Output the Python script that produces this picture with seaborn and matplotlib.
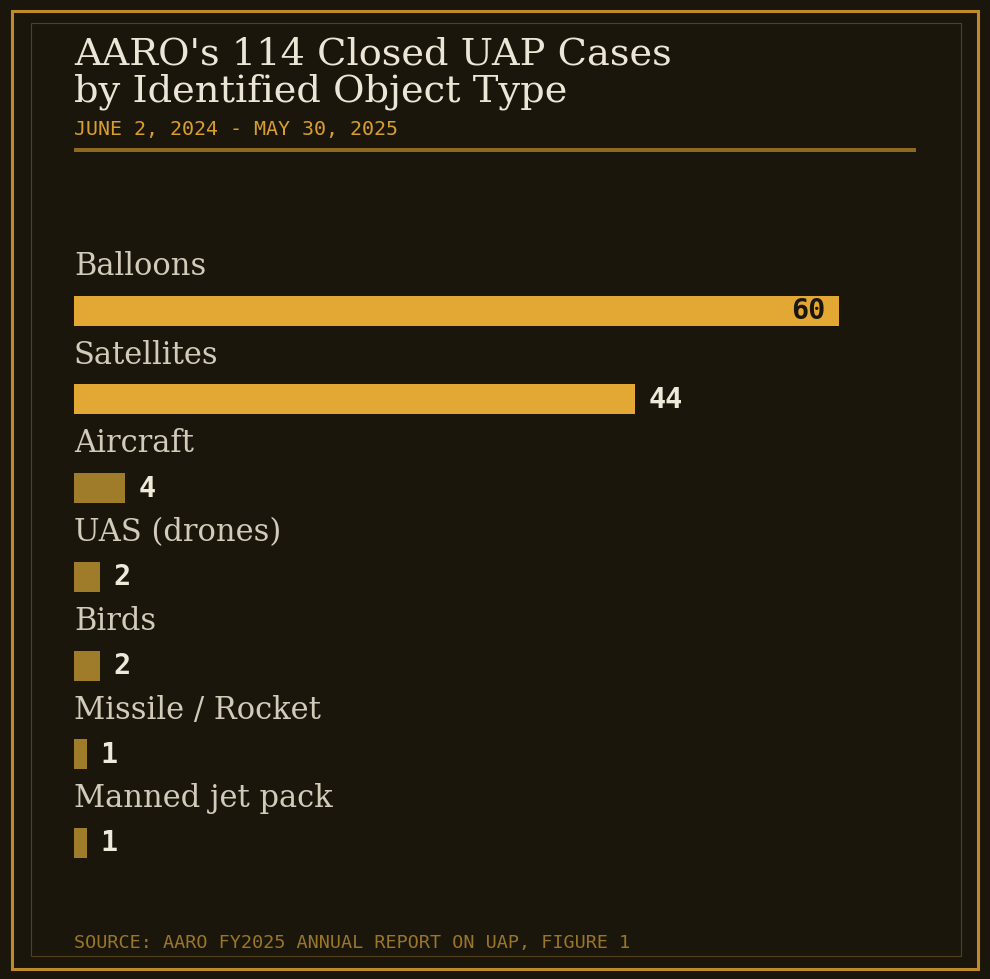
import matplotlib
matplotlib.use("Agg")
import pandas as pd
import seaborn as sns
from matplotlib import pyplot as plt
from matplotlib.patches import Rectangle
from matplotlib.lines import Line2D

categories = ["Balloons", "Satellites", "Aircraft", "UAS (drones)", "Birds",
              "Missile / Rocket", "Manned jet pack"]
counts = [60, 44, 4, 2, 2, 1, 1]

BG = "#1a160c"
GOLD = "#e3a833"
DARKGOLD = "#9e7c2a"
palette = {c: (GOLD if v >= 40 else DARKGOLD) for c, v in zip(categories, counts)}

df = pd.DataFrame({"category": categories, "count": counts})

sns.set_style("dark")
W, H = 990, 979
fig = plt.figure(figsize=(W / 100, H / 100 + 0.004), dpi=100, facecolor=BG)

# axes placed in pixel terms
ax_left, ax_right, ax_top, ax_bottom = 74, 916, 200, 900
ax = fig.add_axes([ax_left / W, 1 - ax_bottom / H,
                   (ax_right - ax_left) / W, (ax_bottom - ax_top) / H])
ax.set_facecolor(BG)

sns.barplot(data=df, x="count", y="category", hue="category", palette=palette,
            legend=False, orient="h", width=0.338, saturation=1, linewidth=0,
            ax=ax)

px_per_unit = 12.75
ax.set_xlim(0, (ax_right - ax_left) / px_per_unit)
step = 88.67
ax.set_ylim((ax_bottom - 311) / step, (ax_top - 311) / step)
ax.axis("off")

for i, (c, v) in enumerate(zip(categories, counts)):
    ax.annotate(c, xy=(0, i), xytext=(0, 26), textcoords="offset points",
                ha="left", va="baseline", family="DejaVu Serif", fontsize=22,
                color="#d2cbba")
    if v >= 50:
        ax.annotate(str(v), xy=(v, i), xytext=(-9.5, 0), textcoords="offset points",
                    ha="right", va="center", family="DejaVu Sans Mono",
                    fontweight="bold", fontsize=20.5, color=BG)
    else:
        ax.annotate(str(v), xy=(v, i), xytext=(10, 0), textcoords="offset points",
                    ha="left", va="center", family="DejaVu Sans Mono",
                    fontweight="bold", fontsize=20.5, color="#efe9da")

# titles
fig.text(74 / W, 1 - 64 / H, "AARO's 114 Closed UAP Cases", family="DejaVu Serif",
         fontsize=27.6, color="#ece6d6", va="baseline", ha="left")
fig.text(74 / W, 1 - 101 / H, "by Identified Object Type", family="DejaVu Serif",
         fontsize=27.6, color="#ece6d6", va="baseline", ha="left")
fig.text(74 / W, 1 - 135 / H, "JUNE 2, 2024 - MAY 30, 2025", family="DejaVu Sans Mono",
         fontsize=14.4, color="#d89e2e", va="baseline", ha="left")
fig.text(74 / W, 1 - 948 / H, "SOURCE: AARO FY2025 ANNUAL REPORT ON UAP, FIGURE 1",
         family="DejaVu Sans Mono", fontsize=13.3, color="#9a7728",
         va="baseline", ha="left")

# rule under subtitle
fig.add_artist(Line2D([74 / W, 916 / W], [1 - 150 / H, 1 - 150 / H],
                      transform=fig.transFigure, color="#8c6a20", lw=2.9,
                      solid_capstyle="butt"))

# borders
fig.add_artist(Rectangle((11.5 / W, 1 - 969.5 / H), 966.5 / W, 958.5 / H,
                         transform=fig.transFigure, fill=False,
                         edgecolor="#bf8a2a", lw=2.2))
fig.add_artist(Rectangle((30.5 / W, 1 - 956.5 / H), 930 / W, 933 / H,
                         transform=fig.transFigure, fill=False,
                         edgecolor="#54401a", lw=0.8))

fig.savefig("out.png", dpi=100, facecolor=BG)
